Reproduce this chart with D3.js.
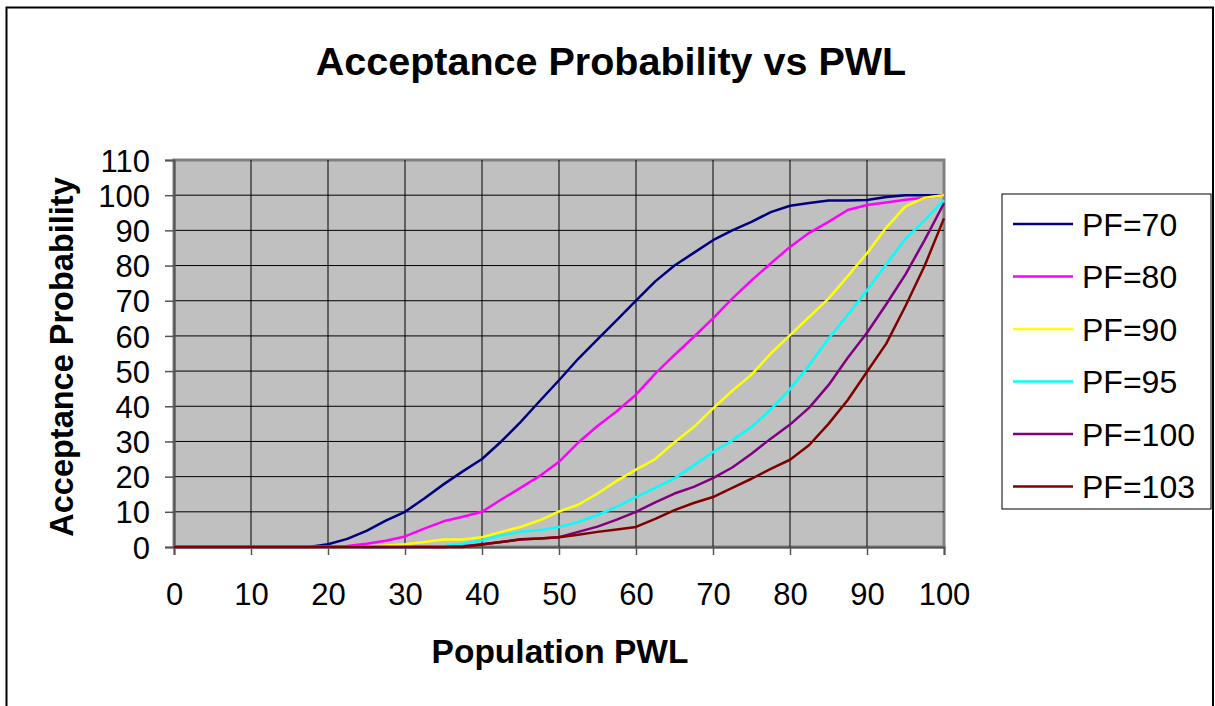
<!DOCTYPE html>
<html>
<head>
<meta charset="utf-8">
<script src="https://cdn.jsdelivr.net/npm/d3@7"></script>
<style>
  body { margin: 0; background: #fff; }
  svg text { font-family: "Liberation Sans", Arial, sans-serif; }
</style>
</head>
<body>
<svg id="chart" width="1215" height="706"></svg>
<script>
const pwl = d3.range(0, 100.01, 2.5);

const pf70 = [0, 0, 0, 0, 0, 0, 0, 0, 0.8, 2.3, 4.6, 7.5, 10, 13.8, 17.8, 21.5, 25, 30, 35.5, 41.5, 47.4,
  53.5, 59, 64.5, 70, 75.5, 80, 83.6, 87.2, 90, 92.4, 95.2, 97, 97.8, 98.5, 98.5, 98.6, 99.5, 100, 100, 100];
const pf80 = [0, 0, 0, 0, 0, 0, 0, 0, 0, 0.3, 0.9, 1.8, 3, 5.2, 7.3, 8.6, 10, 13.5, 16.8, 20.2, 24.2,
  29.7, 34.4, 38.6, 43.3, 49.3, 54.6, 59.7, 65, 70.6, 75.8, 80.6, 85.3, 89.3, 92.4, 95.8, 97.2, 97.9, 98.7, 99.3, 100];
const pf90 = [0, 0, 0, 0, 0, 0, 0, 0, 0, 0, 0.1, 0.4, 0.8, 1.4, 2.1, 2.1, 2.8, 4.3, 5.7, 7.6, 10.1,
  12, 15.2, 18.8, 22, 25, 29.8, 34.1, 39.4, 44.4, 49, 55, 60.2, 65.4, 70.6, 77, 83.5, 90.8, 96.8, 99.3, 100];
const pf95 = [0, 0, 0, 0, 0, 0, 0, 0, 0, 0, 0, 0, 0, 0, 0.2, 0.9, 1.9, 3.3, 4.3, 4.8, 5.7,
  7.1, 9.1, 11.4, 14.2, 16.8, 19.5, 23.2, 27, 30.3, 34.1, 39.1, 44.9, 51.7, 59.2, 66, 73, 80.4, 87.6, 92.9, 98.6];
const pf100 = [0, 0, 0, 0, 0, 0, 0, 0, 0, 0, 0, 0, 0, 0, 0, 0.2, 0.8, 1.4, 2.1, 2.4, 2.8,
  4.3, 5.8, 7.8, 10, 12.7, 15.2, 17.1, 19.6, 22.6, 26.5, 30.8, 34.8, 39.6, 46, 53.8, 60.9, 69, 77.5, 87.3, 97.7];
const pf103 = [0, 0, 0, 0, 0, 0, 0, 0, 0, 0, 0, 0, 0, 0, 0, 0, 0.7, 1.4, 2.2, 2.4, 2.8,
  3.5, 4.3, 5, 5.7, 8, 10.5, 12.5, 14.2, 16.8, 19.4, 22.2, 24.8, 29, 35, 41.8, 49.8, 57.8, 68.5, 80, 93.4];

const seriesNames = ['PF=70', 'PF=80', 'PF=90', 'PF=95', 'PF=100', 'PF=103'];
const seriesValues = [pf70, pf80, pf90, pf95, pf100, pf103];
const seriesColors = ['#000080', '#FF00FF', '#FFFF00', '#00FFFF', '#800080', '#800000'];
const xTicks = d3.range(0, 101, 10);
const yTicks = d3.range(0, 111, 10);

const svg = d3.select('#chart');
const plot = { left: 174, right: 944, top: 160, bottom: 547 };

const x = d3.scaleLinear().domain([0, 100]).range([plot.left, plot.right]);
const y = d3.scaleLinear().domain([0, 110]).range([plot.bottom, plot.top]);

// chart border
svg.append('rect')
  .attr('x', 6.5).attr('y', 7.5)
  .attr('width', 1206.5).attr('height', 720)
  .attr('fill', '#fff')
  .attr('stroke', '#000')
  .attr('stroke-width', 2);

svg.append('text')
  .attr('x', 611).attr('y', 75)
  .attr('text-anchor', 'middle')
  .attr('font-size', 39.5)
  .attr('font-weight', 'bold')
  .text('Acceptance Probability vs PWL');

// plot area
svg.append('rect')
  .attr('x', plot.left).attr('y', plot.top)
  .attr('width', plot.right - plot.left).attr('height', plot.bottom - plot.top)
  .attr('fill', '#C0C0C0')
  .attr('stroke', '#808080')
  .attr('stroke-width', 3);

const grid = svg.append('g');
grid.selectAll('line.h')
  .data(yTicks.slice(1, -1))
  .enter().append('line')
  .attr('x1', plot.left).attr('x2', plot.right)
  .attr('y1', d => y(d)).attr('y2', d => y(d))
  .attr('stroke', '#000').attr('stroke-width', 1);
grid.selectAll('line.v')
  .data(xTicks.slice(1, -1))
  .enter().append('line')
  .attr('y1', plot.top).attr('y2', plot.bottom)
  .attr('x1', d => x(d)).attr('x2', d => x(d))
  .attr('stroke', '#000').attr('stroke-width', 1);

const yAxis = svg.append('g')
  .attr('transform', `translate(${plot.left},0)`)
  .call(d3.axisLeft(y).tickValues(yTicks).tickSize(9).tickPadding(15));
const xAxis = svg.append('g')
  .attr('transform', `translate(0,${plot.bottom})`)
  .call(d3.axisBottom(x).tickValues(xTicks).tickSize(8).tickPadding(28));

[yAxis, xAxis].forEach(g => {
  g.select('.domain').attr('stroke', '#555').attr('stroke-width', 2);
  g.selectAll('.tick line').attr('stroke', '#555').attr('stroke-width', 1.5);
  g.selectAll('.tick text')
    .attr('font-size', 31)
    .attr('fill', '#000')
    .style('font-family', '"Liberation Sans", Arial, sans-serif');
});
yAxis.selectAll('.tick text').attr('dy', '0.36em');
xAxis.selectAll('.tick text').attr('dy', '0.71em');

svg.append('text')
  .attr('x', 560).attr('y', 663)
  .attr('text-anchor', 'middle')
  .attr('font-size', 33.5)
  .attr('font-weight', 'bold')
  .text('Population PWL');

svg.append('text')
  .attr('transform', 'translate(73,357) rotate(-90)')
  .attr('text-anchor', 'middle')
  .attr('font-size', 32.5)
  .attr('font-weight', 'bold')
  .text('Acceptance Probability');

const line = d3.line()
  .x((d, i) => x(pwl[i]))
  .y(d => y(d));

svg.append('g')
  .selectAll('path')
  .data(seriesValues)
  .enter().append('path')
  .attr('d', d => line(d))
  .attr('fill', 'none')
  .attr('stroke', (d, i) => seriesColors[i])
  .attr('stroke-width', 2.5)
  .attr('stroke-linejoin', 'round');

// legend
const legend = svg.append('g');
legend.append('rect')
  .attr('x', 1002).attr('y', 194)
  .attr('width', 209).attr('height', 315)
  .attr('fill', '#fff')
  .attr('stroke', '#000')
  .attr('stroke-width', 1);

const item = legend.selectAll('g.item')
  .data(seriesNames)
  .enter().append('g')
  .attr('transform', (d, i) => `translate(0,${224 + i * 52.5})`);
item.append('line')
  .attr('x1', 1013).attr('x2', 1073)
  .attr('stroke', (d, i) => seriesColors[i])
  .attr('stroke-width', 2.5);
item.append('text')
  .attr('x', 1082).attr('dy', '0.36em')
  .attr('font-size', 32)
  .text(d => d);
</script>
</body>
</html>
